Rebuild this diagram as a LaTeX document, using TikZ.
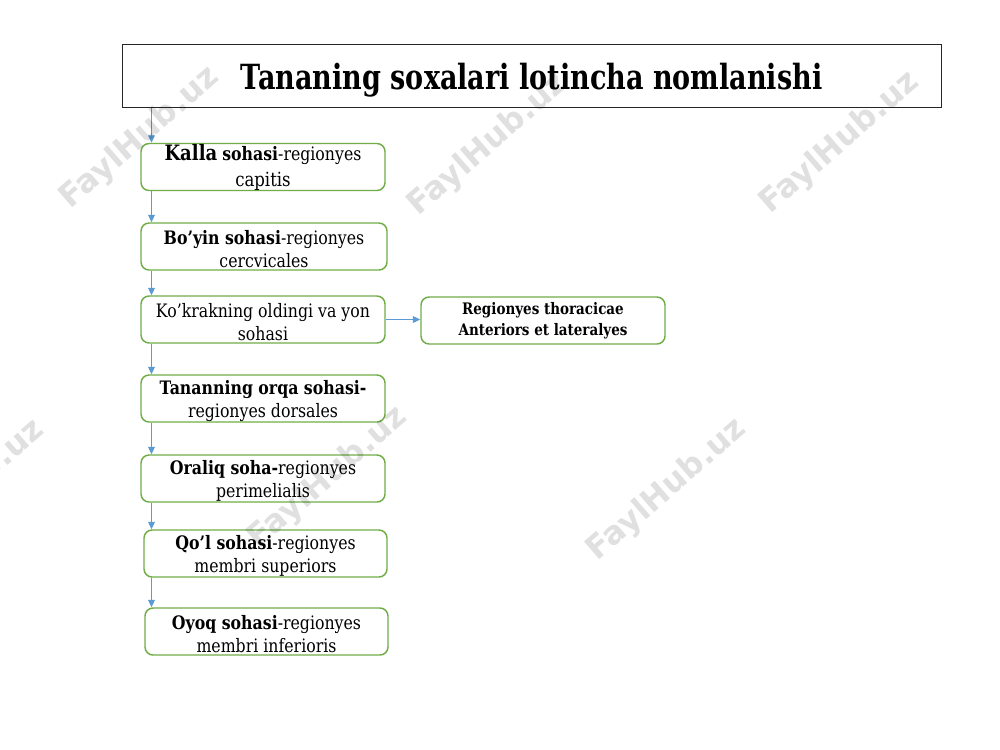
\documentclass[tikz,border=0pt]{standalone}
\usepackage{fontspec}
\setmainfont{DejaVu Serif}[FakeStretch=0.85]
\newfontfamily\titlefont{DejaVu Serif}[FakeStretch=0.78]
\newfontfamily\wmfont{DejaVu Sans}
\usetikzlibrary{arrows.meta}
\definecolor{boxgreen}{HTML}{70AD47}
\definecolor{arrblue}{HTML}{5B9BD5}
\newcommand\topstr{\rule{0pt}{14.6pt}}
\begin{document}
\begin{tikzpicture}[x=0.75pt,y=-0.75pt,
  region/.style={draw=boxgreen, line width=1.1pt, rounded corners=6pt, fill=white,
    minimum width=183pt, minimum height=35.25pt, align=center, inner sep=0pt,
    font=\fontsize{13.9}{17.5}\selectfont},
  link/.style={draw=arrblue, line width=0.75pt, -{Triangle[width=5pt,length=5.5pt]}},
  wm/.style={font=\wmfont\bfseries\fontsize{24}{24}\selectfont, text=black, text opacity=0.12, rotate=41, inner sep=0pt}]
\useasboundingbox[fill=white] (0,0) rectangle (1000,750);
\node[draw=black!85, line width=0.75pt, minimum width=614.25pt, minimum height=47.25pt, inner sep=0pt,
  font=\titlefont\bfseries\fontsize{26}{26}\selectfont] (title) at (531.5,75.5) {\raisebox{-10.5pt}[0pt][0pt]{Tananing soxalari lotincha nomlanishi}};
\coordinate (lx) at (151.5,0);
\node[region, font=\fontsize{13.9}{19.5}\selectfont] (k1) at (263,167) {{\fontsize{15.9}{19.5}\selectfont\bfseries Kalla} \textbf{sohasi}-regionyes\\{\fontsize{14.6}{19.5}\selectfont capitis}};
\node[region, minimum width=184.5pt] (k2) at (264,246.5) {\topstr\textbf{Bo’yin sohasi}-regionyes\\cercvicales};
\node[region] (k3) at (263,319.5) {\topstr Ko’krakning oldingi va yon\\sohasi};
\node[region, font=\bfseries\fontsize{11.9}{15.5}\selectfont] (k4) at (543,320.5) {Regionyes thoracicae\\Anteriors et lateralyes};
\node[region] (k5) at (263,398.5) {\topstr\textbf{Tananning orqa sohasi-}\\regionyes dorsales};
\node[region] (k6) at (263,478.5) {\topstr\textbf{Oraliq soha-}regionyes\\perimelialis};
\node[region, minimum width=182.25pt] (k7) at (265.5,553.5) {\topstr\textbf{Qo’l sohasi}-regionyes\\membri superiors};
\node[region, minimum width=182.25pt] (k8) at (266.5,631.5) {\topstr\textbf{Oyoq sohasi}-regionyes\\membri inferioris};
\draw[link] (title.south -| lx) -- (k1.north -| lx);
\draw[link] (k1.south -| lx) -- (k2.north -| lx);
\draw[link] (k2.south -| lx) -- (k3.north -| lx);
\draw[link] (k3.south -| lx) -- (k5.north -| lx);
\draw[link] (k5.south -| lx) -- (k6.north -| lx);
\draw[link] (k6.south -| lx) -- (k7.north -| lx);
\draw[link] (k7.south -| lx) -- (k8.north -| lx);
\draw[link] (k3.east) -- (k3.east -| k4.west);
\begin{scope}
\clip (0,0) rectangle (1000,750);
\node[wm] (w1) at (140,138) {FaylHub.uz};
\node[wm] (w2) at (488,145) {FaylHub.uz};
\node[wm] (w3) at (840,143) {FaylHub.uz};
\node[wm] (w4) at (-35,491) {FaylHub.uz};
\node[wm] (w5) at (328,478) {FaylHub.uz};
\node[wm] (w6) at (667,490) {FaylHub.uz};
\end{scope}
\end{tikzpicture}
\end{document}
